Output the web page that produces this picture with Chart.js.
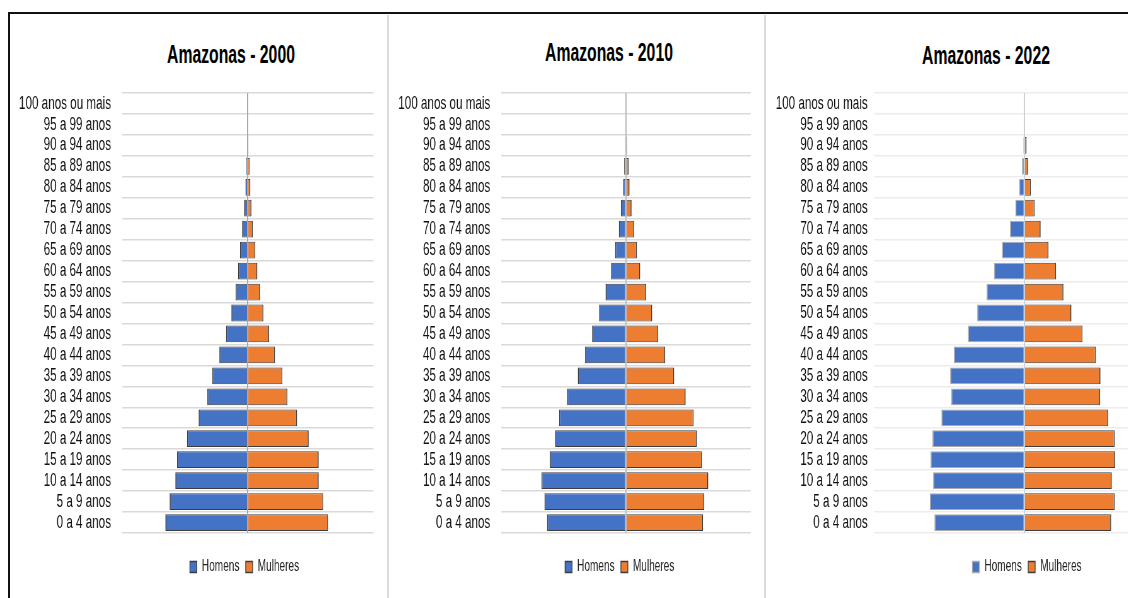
<!DOCTYPE html>
<html>
<head>
<meta charset="utf-8">
<script src="https://cdn.jsdelivr.net/npm/chart.js@4.4.1/dist/chart.umd.min.js"></script>
<style>
  html, body { margin: 0; padding: 0; background: #fff; overflow: hidden; }
  body { width: 1128px; height: 598px; position: relative; }
  #frame { position: absolute; left: 8px; top: 12px; width: 1200px; height: 700px;
           border-top: 2px solid #111; border-left: 2px solid #111; }
  .sep { position: absolute; top: 15px; width: 2px; height: 590px; background: #dcdcdc; }
  .title { position: absolute; width: 400px; text-align: center; color: #000;
           font: bold 25px "Liberation Sans", Arial, sans-serif; line-height: 25px;
           transform: scaleX(0.63); }
  canvas { position: absolute; top: 15px; transform-origin: 0 0; }
</style>
</head>
<body>
<div id="frame"></div>
<div class="sep" style="left:387px"></div>
<div class="sep" style="left:764px"></div>
<script>
// age groups, bottom (youngest) to top
const ageGroups = ['0 a 4 anos', '5 a 9 anos', '10 a 14 anos', '15 a 19 anos', '20 a 24 anos',
  '25 a 29 anos', '30 a 34 anos', '35 a 39 anos', '40 a 44 anos', '45 a 49 anos', '50 a 54 anos',
  '55 a 59 anos', '60 a 64 anos', '65 a 69 anos', '70 a 74 anos', '75 a 79 anos', '80 a 84 anos',
  '85 a 89 anos', '90 a 94 anos', '95 a 99 anos', '100 anos ou mais'];

// population in thousands
const men2000 = [163.8, 155.2, 143.9, 140.5, 120.6, 97.5, 80.2, 70.2, 56.3, 43.0, 32.4,
  23.9, 19.1, 15.1, 11.1, 7.2, 4.4, 2.6, 1.2, 0.6, 0.2];
const women2000 = [160.0, 150.6, 141.3, 141.3, 121.4, 98.3, 79.0, 69.1, 54.5, 42.6, 31.2,
  24.5, 19.3, 15.3, 10.0, 7.4, 5.4, 4.0, 1.6, 0.8, 0.2];

const men2010 = [157.8, 163.0, 169.0, 152.4, 141.8, 133.7, 117.7, 96.2, 81.6, 67.6, 53.5,
  40.7, 29.5, 21.5, 14.0, 10.0, 5.4, 3.4, 1.6, 0.6, 0.2];
const women2010 = [154.4, 157.0, 165.0, 152.4, 142.4, 135.7, 119.7, 96.8, 78.8, 64.8, 52.7,
  40.7, 28.7, 22.1, 16.6, 11.4, 7.4, 5.4, 2.4, 0.8, 0.2];

const men2022 = [179.4, 188.6, 182.0, 187.4, 183.4, 165.4, 146.0, 148.0, 140.6, 112.6, 94.0,
  75.4, 60.6, 44.6, 28.6, 18.0, 10.4, 4.6, 2.0, 0.8, 0.2];
const women2022 = [173.4, 180.6, 174.6, 181.4, 180.6, 167.4, 151.4, 152.0, 142.6, 116.0, 94.0,
  78.0, 63.4, 48.0, 32.6, 20.6, 13.0, 7.4, 4.6, 1.6, 0.4];

const FONT = '"Liberation Sans", Arial, sans-serif';
const SQUASH = 0.63; // the picture is squeezed horizontally
const TOP = 15, BOTTOM = 598, PLOT_TOP = 93;

// screen geometry of each panel
const panels = [
  { title: 'Amazonas - 2000', men: men2000, women: women2000, axisMax: 250,
    x0: 12, x1: 386, plotL: 122, plotR: 373.3, legendC: 244.5, labelGap: 11,
    titleX: 231.3, titleTop: 45, gridColor: '#d9d9d9', zeroColor: '#a8a8a8', menBorder: '#3d3d3d' },
  { title: 'Amazonas - 2010', men: men2010, women: women2010, axisMax: 250,
    x0: 391, x1: 763, plotL: 501, plotR: 750.7, legendC: 619.7, labelGap: 10.7,
    titleX: 608.5, titleTop: 43.3, gridColor: '#dadada', zeroColor: '#bdbdbd', menBorder: '#3d3d3d' },
  { title: 'Amazonas - 2022', men: men2022, women: women2022, axisMax: 300,
    x0: 768, x1: 1180, plotL: 874, plotR: 1174.6, legendC: 1027, labelGap: 6.3,
    titleX: 986.3, titleTop: 46.7, gridColor: '#ececec', zeroColor: '#cfcfcf', menBorder: '#a9a9a9' }
];

// nudges the legend sideways, it is not centred on the plot in the original
const legendShift = {
  id: 'legendShift',
  afterLayout(chart, args, opts) {
    const lg = chart.legend;
    if (!lg || !opts.dx) return;
    lg.left += opts.dx;
    lg.right += opts.dx;
  }
};

function makePanel(p) {
  const t = document.createElement('div');
  t.className = 'title';
  t.textContent = p.title;
  t.style.left = (p.titleX - 200) + 'px';
  t.style.top = (p.titleTop - 3.3) + 'px';
  document.body.appendChild(t);

  const W = Math.round((p.x1 - p.x0) / SQUASH);
  const H = BOTTOM - TOP;
  const toInt = x => (x - p.x0) / SQUASH;
  const padR = W - toInt(p.plotR);
  const yW = toInt(p.plotL);
  const dx = (p.legendC - (p.plotL + p.plotR) / 2) / SQUASH;

  const canvas = document.createElement('canvas');
  canvas.width = W;
  canvas.height = H;
  canvas.style.left = p.x0 + 'px';
  canvas.style.transform = 'scaleX(' + SQUASH + ')';
  document.body.appendChild(canvas);

  const border = {top: 1, bottom: 1, left: 1.6, right: 1.6};

  new Chart(canvas, {
    type: 'bar',
    data: {
      labels: ageGroups,
      datasets: [
        { label: 'Homens', data: p.men.map(v => -v), backgroundColor: '#4472C4',
          borderColor: p.menBorder, borderWidth: border, barPercentage: 0.8, categoryPercentage: 1 },
        { label: 'Mulheres', data: p.women, backgroundColor: '#ED7D31',
          borderColor: '#3d3d3d', borderWidth: border, barPercentage: 0.8, categoryPercentage: 1 }
      ]
    },
    options: {
      indexAxis: 'y',
      responsive: false,
      animation: false,
      layout: { padding: { left: 0, right: padR, top: PLOT_TOP - TOP, bottom: 13 } },
      scales: {
        x: {
          stacked: true,
          min: -p.axisMax,
          max: p.axisMax,
          ticks: { display: false, stepSize: 50 },
          border: { display: false },
          grid: {
            z: 1, drawTicks: false, lineWidth: 2,
            color: c => (c.tick && c.tick.value === 0) ? p.zeroColor : 'rgba(0,0,0,0)'
          },
          afterFit: s => { s.height = 16; }
        },
        y: {
          stacked: true,
          reverse: true,
          border: { display: false },
          grid: { color: p.gridColor, lineWidth: 1.5, drawTicks: false },
          ticks: { autoSkip: false, padding: p.labelGap / SQUASH, color: '#111',
                   font: { family: FONT, size: 18.5 } },
          afterFit: s => { s.width = yW; }
        }
      },
      plugins: {
        legend: {
          position: 'bottom',
          fullSize: false,
          labels: { boxWidth: 11, boxHeight: 11, padding: 10, color: '#222',
                    font: { family: FONT, size: 16 } }
        },
        legendShift: { dx: dx },
        tooltip: { enabled: false }
      }
    },
    plugins: [legendShift]
  });
}

panels.forEach(makePanel);
</script>
</body>
</html>
